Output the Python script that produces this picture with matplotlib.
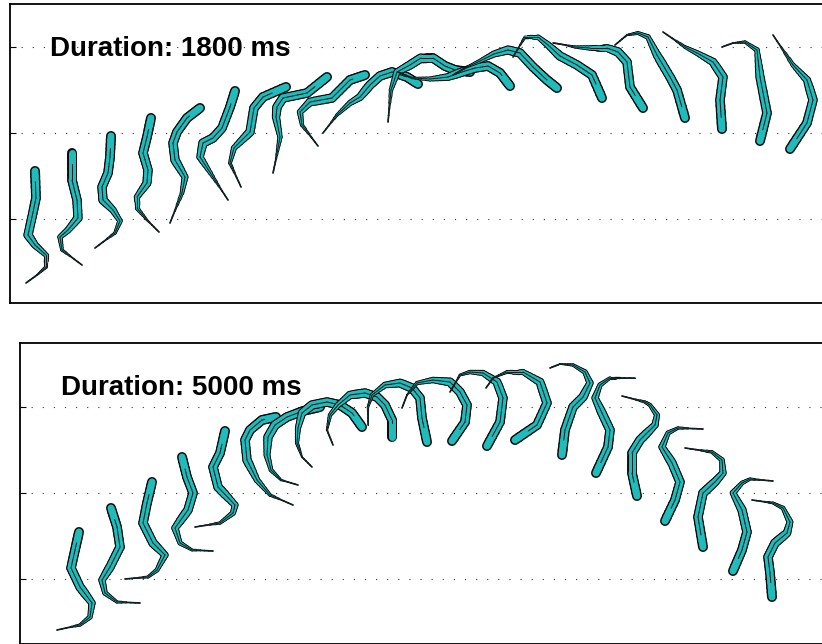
import matplotlib
matplotlib.use("Agg")
import matplotlib.pyplot as plt
import numpy as np
from matplotlib.collections import LineCollection

plt.rcParams['font.family'] = ['Liberation Sans', 'DejaVu Sans']

# worm skeletons, head first, in image-like units (x right, y down)
worms_1800 = [
    [(35, 171), (36, 198), (32, 217), (28, 235), (35, 245), (46, 255), (46, 267), (37, 275), (26, 283)],
    [(72, 153), (72, 180), (77, 200), (78, 218), (68, 230), (60, 237), (62, 250), (82, 265)],
    [(111, 136), (110, 157), (108, 173), (102, 187), (103, 200), (113, 210), (120, 221), (115, 233), (95, 248)],
    [(151, 118), (147, 137), (143, 153), (148, 170), (147, 183), (137, 197), (137, 208), (147, 220), (159, 232)],
    [(200, 108), (187, 118), (177, 132), (173, 143), (175, 160), (185, 177), (182, 193), (170, 223)],
    [(235, 91), (230, 107), (222, 128), (213, 138), (203, 143), (200, 157), (213, 177), (228, 200)],
    [(286, 87), (263, 97), (254, 108), (250, 132), (234, 148), (230, 163), (241, 187)],
    [(327, 77), (307, 93), (283, 98), (277, 107), (276, 117), (280, 137), (276, 159), (273, 173)],
    [(365, 75), (350, 80), (332, 98), (310, 102), (300, 112), (302, 125), (318, 146)],
    [(418, 84), (407, 77), (392, 72), (380, 76), (370, 85), (360, 97), (350, 103), (337, 115), (323, 133)],
    [(470, 72), (455, 70), (445, 66), (433, 58), (421, 58), (410, 65), (397, 72), (391, 90), (388, 122)],
    [(510, 86), (500, 73), (488, 66), (475, 68), (462, 72), (448, 77), (430, 79), (412, 78), (398, 72)],
    [(557, 88), (547, 80), (533, 67), (520, 53), (508, 50), (494, 54), (480, 61), (467, 67), (453, 75)],
    [(602, 98), (592, 75), (577, 65), (560, 56), (548, 45), (538, 37), (525, 37), (513, 57)],
    [(643, 108), (630, 87), (627, 62), (618, 52), (607, 48), (590, 48), (575, 47), (560, 44), (553, 43)],
    [(685, 118), (677, 90), (670, 77), (657, 55), (648, 37), (638, 33), (627, 35), (615, 45)],
    [(722, 129), (720, 100), (723, 77), (713, 62), (697, 53), (685, 47), (663, 32)],
    [(760, 141), (767, 113), (760, 77), (757, 50), (745, 42), (733, 43), (722, 47)],
    [(790, 149), (807, 123), (813, 100), (807, 80), (793, 65), (773, 35)],
]

worms_5000 = [
    [(79, 532), (75, 550), (71, 568), (80, 587), (92, 603), (90, 617), (80, 625), (57, 630)],
    [(111, 508), (117, 527), (120, 547), (110, 567), (102, 580), (105, 593), (117, 602), (140, 603)],
    [(152, 482), (147, 503), (143, 523), (153, 543), (165, 555), (157, 570), (148, 577), (125, 579)],
    [(182, 457), (187, 477), (193, 493), (188, 510), (175, 528), (180, 543), (192, 550), (213, 551)],
    [(225, 431), (220, 453), (213, 467), (218, 487), (235, 505), (233, 513), (220, 523), (195, 527)],
    [(276, 417), (262, 420), (250, 430), (245, 440), (247, 460), (257, 480), (270, 495), (293, 505)],
    [(320, 407), (303, 411), (287, 417), (275, 425), (268, 437), (267, 455), (271, 470), (281, 480), (298, 485)],
    [(362, 427), (352, 413), (340, 405), (327, 402), (312, 405), (302, 413), (298, 428), (297, 443), (302, 457), (312, 467)],
    [(392, 437), (392, 420), (385, 405), (377, 397), (365, 393), (350, 395), (338, 405), (330, 415), (327, 430), (333, 445)],
    [(427, 442), (422, 418), (420, 398), (412, 388), (400, 383), (385, 385), (372, 395), (368, 407), (368, 425)],
    [(452, 441), (465, 422), (467, 405), (460, 392), (450, 382), (433, 380), (417, 383), (407, 395), (402, 408)],
    [(487, 446), (500, 422), (503, 398), (497, 382), (483, 373), (470, 372), (460, 375), (450, 392)],
    [(515, 440), (537, 425), (547, 403), (540, 382), (523, 372), (507, 372), (493, 378), (486, 388)],
    [(562, 455), (565, 430), (573, 407), (583, 397), (590, 383), (585, 372), (573, 365), (560, 364), (550, 368)],
    [(596, 473), (608, 447), (610, 430), (602, 413), (595, 398), (600, 385), (610, 378), (635, 378)],
    [(637, 496), (632, 473), (632, 453), (640, 440), (655, 425), (657, 415), (650, 405), (645, 402), (622, 396)],
    [(665, 521), (675, 500), (680, 482), (672, 463), (662, 447), (668, 433), (678, 428), (703, 429)],
    [(703, 547), (698, 517), (703, 493), (715, 482), (723, 473), (722, 460), (712, 452), (685, 448)],
    [(733, 571), (742, 550), (747, 532), (742, 510), (733, 493), (742, 483), (750, 479), (773, 481)],
    [(772, 597), (770, 573), (768, 557), (775, 543), (787, 533), (790, 522), (783, 508), (773, 503), (752, 500)],
]

durations = [1800, 5000]
yticks_1800 = [47, 133, 219]
yticks_5000 = [407, 493, 579]

CYAN = '#20bcbc'
PX = 0.72  # points per pixel at dpi 100
W_CYAN = 7.0


def draw_worm(ax, pts, z):
    p = np.array(pts, float)
    seg_len = np.hypot(*np.diff(p, axis=0).T)
    total = seg_len.sum()
    segs, ts = [], []
    s0 = 0.0
    n = 5
    for a, b, L in zip(p[:-1], p[1:], seg_len):
        for j in range(n):
            u0, u1 = j / n, (j + 1) / n
            segs.append([a + (b - a) * u0, a + (b - a) * u1])
            ts.append((s0 + L * (u0 + u1) / 2) / total)
        s0 += L
    ts = np.array(ts)
    segs = np.array(segs)
    cyan_w = W_CYAN * np.clip((0.9 - ts) / (0.9 - 0.5), 0, 1)
    black_w = cyan_w + 3.0 - 1.4 * ts
    ax.add_collection(LineCollection(segs, linewidths=black_w * PX, colors='#0c0c0c',
                                     capstyle='round', joinstyle='round', zorder=z))
    ax.add_collection(LineCollection(segs, linewidths=cyan_w * PX, colors=CYAN,
                                     capstyle='round', joinstyle='round', zorder=z + 0.1))
    keep = ts > 0.1
    ax.add_collection(LineCollection(segs[keep], linewidths=1.0 * PX, colors='#0e2626',
                                     capstyle='round', zorder=z + 0.2))


fig = plt.figure(figsize=(8.22, 6.44), dpi=100)
W, H = 822.0, 644.0

panels = [
    (worms_1800, yticks_1800, (9.5, 830, 303, 4), (50, 56)),
    (worms_5000, yticks_5000, (20, 830, 643.5, 343), (61, 395)),
]

for (worms, yt, lims, tpos), dur in zip(panels, durations):
    x0, x1, yb, ytop = lims
    ax = fig.add_axes([x0 / W, (H - yb) / H, (x1 - x0) / W, (yb - ytop) / H])
    ax.set_xlim(x0, x1)
    ax.set_ylim(yb, ytop)
    for i, w in enumerate(worms):
        draw_worm(ax, w, 2 + i * 0.5)
    ax.set_xticks([])
    ax.set_yticks(yt)
    ax.tick_params(axis='y', direction='in', length=4, width=0.8, labelleft=False)
    ax.set_axisbelow(True)
    ax.yaxis.grid(True, linestyle=(0, (1, 9)), color='#333333', linewidth=0.8)
    for s in ax.spines.values():
        s.set_linewidth(1.3)
    ax.text(tpos[0], tpos[1], 'Duration: %d ms' % dur, fontsize=20, fontweight='bold',
            va='baseline', ha='left', zorder=50)

fig.savefig('out.png', dpi=100)
